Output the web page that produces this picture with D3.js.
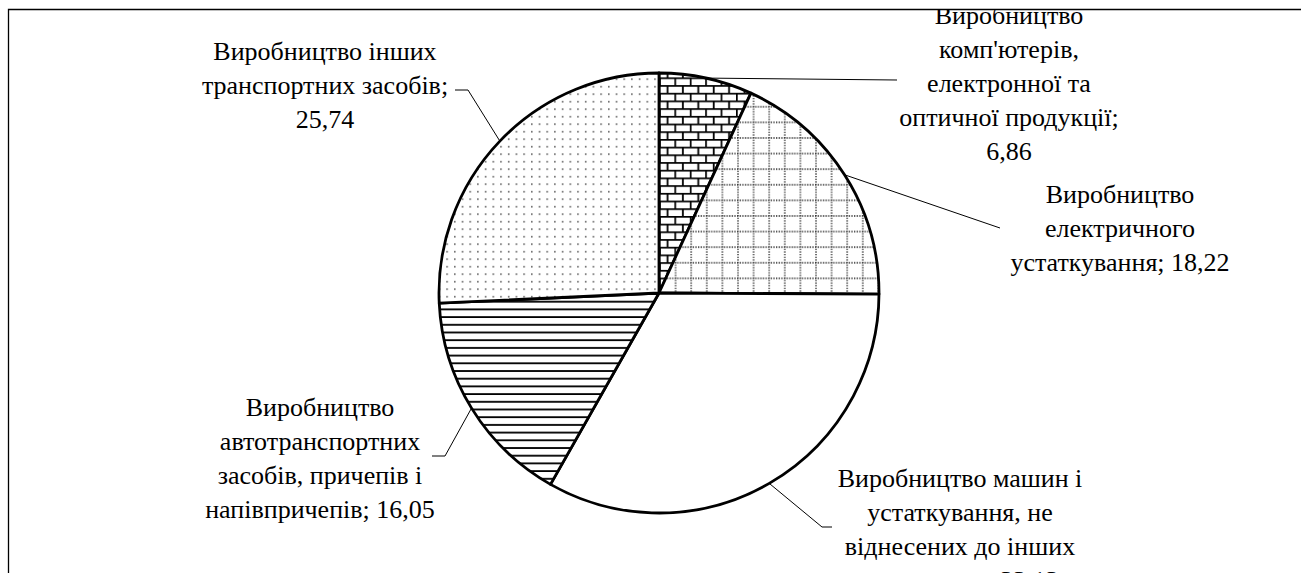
<!DOCTYPE html>
<html>
<head>
<meta charset="utf-8">
<script src="https://cdn.jsdelivr.net/npm/d3@7"></script>
</head>
<body style="margin:0">
<div id="graph"></div>
<script>
var categories = [
    "Виробництво комп'ютерів, електронної та оптичної продукції",
    "Виробництво електричного устаткування",
    "Виробництво машин і устаткування, не віднесених до інших угруповань",
    "Виробництво автотранспортних засобів, причепів і напівпричепів",
    "Виробництво інших транспортних засобів"
];
var values = [6.86, 18.22, 33.13, 16.05, 25.74];
var labelLines = [
    ["Виробництво", "комп'ютерів,", "електронної та", "оптичної продукції;"],
    ["Виробництво", "електричного", "устаткування;"],
    ["Виробництво машин і", "устаткування, не", "віднесених до інших", "угруповань;"],
    ["Виробництво", "автотранспортних", "засобів, причепів і", "напівпричепів;"],
    ["Виробництво інших", "транспортних засобів;"]
];
var valueOnOwnLine = [true, false, false, false, true];

function dessinCamembert() {
    var width = 1301, height = 573,
        cx = 659, cy = 293, r = 220,
        lineH = 34,
        // position des étiquettes et coude des lignes de rappel
        layout = [
            {x: 1009, y: 24, pts: [[897, 80]]},
            {x: 1120, y: 203, pts: [[1000, 228]]},
            {x: 960, y: 487, pts: [[822, 527], [832, 527]]},
            {x: 320, y: 416, pts: [[445, 456], [432, 456]]},
            {x: 325, y: 60, pts: [[468, 90], [455, 90]]}
        ],
        fills = ["url(#brique)", "url(#grille)", "white", "url(#lignes)", "url(#points)"],

        svg = d3.select("#graph")
            .append("svg")
                .attr("width", width)
                .attr("height", height),
        defs = svg.append("defs");

    // motifs de remplissage
    var brique = defs.append("pattern").attr("id", "brique")
        .attr("patternUnits", "userSpaceOnUse").attr("width", 15.4).attr("height", 15.4);
    brique.append("rect").attr("width", 15.4).attr("height", 15.4).attr("fill", "white");
    brique.append("path")
        .attr("d", "M0,0.8H15.4M0,8.5H15.4M0.8,0V7.7M8.5,7.7V15.4")
        .attr("stroke", "black").attr("stroke-width", 1.8).attr("fill", "none");

    var grille = defs.append("pattern").attr("id", "grille")
        .attr("patternUnits", "userSpaceOnUse").attr("width", 15.6).attr("height", 15.6);
    grille.append("rect").attr("width", 15.6).attr("height", 15.6).attr("fill", "white");
    grille.append("path")
        .attr("d", "M0,1H15.6M1,0V15.6")
        .attr("stroke", "#222").attr("stroke-width", 1.3)
        .attr("stroke-dasharray", "1.3 1.3").attr("fill", "none");

    var lignes = defs.append("pattern").attr("id", "lignes")
        .attr("patternUnits", "userSpaceOnUse").attr("width", 10).attr("height", 7.7);
    lignes.append("rect").attr("width", 10).attr("height", 7.7).attr("fill", "white");
    lignes.append("path")
        .attr("d", "M0,1H10")
        .attr("stroke", "black").attr("stroke-width", 1.8).attr("fill", "none");

    var points = defs.append("pattern").attr("id", "points")
        .attr("patternUnits", "userSpaceOnUse").attr("width", 7.7).attr("height", 7.5);
    points.append("rect").attr("width", 7.7).attr("height", 7.5).attr("fill", "white");
    points.append("rect").attr("x", 3).attr("y", 3).attr("width", 1.4).attr("height", 1.4).attr("fill", "#333");

    var pie = d3.pie().sort(null).value(function (d) { return d; }),
        arcs = pie(values),
        arc = d3.arc().innerRadius(0).outerRadius(r),
        arcBord = d3.arc().innerRadius(r).outerRadius(r),
        centre = svg.append("g").attr("transform", "translate(" + cx + "," + cy + ")");

    centre.selectAll(".part")
        .data(arcs)
        .enter()
        .append("path")
        .attr("d", arc)
        .attr("fill", function (d, i) { return fills[i]; })
        .attr("stroke", "black")
        .attr("stroke-width", 2.8)
        .attr("stroke-linejoin", "round");

    // lignes de rappel
    svg.selectAll(".rappel")
        .data(arcs)
        .enter()
        .append("path")
        .attr("fill", "none")
        .attr("stroke", "black")
        .attr("stroke-width", 1)
        .attr("d", function (d, i) {
            var c = arcBord.centroid(d),
                p = [[cx + c[0], cy + c[1]]].concat(layout[i].pts);
            return d3.line()(p);
        });

    var fmt = function (v) { return d3.format(".2f")(v).replace(".", ","); };

    var txt = [];
    arcs.forEach(function (d, i) {
        var lignesTxt = labelLines[i].slice();
        if (valueOnOwnLine[i]) lignesTxt.push(fmt(values[i]));
        else lignesTxt[lignesTxt.length - 1] += " " + fmt(values[i]);
        lignesTxt.forEach(function (t, k) {
            txt.push({t: t, x: layout[i].x, y: layout[i].y + k * lineH});
        });
    });
    svg.selectAll("text")
        .data(txt)
        .enter()
        .append("text")
        .attr("x", function (d) { return d.x; })
        .attr("y", function (d) { return d.y; })
        .attr("text-anchor", "middle")
        .style("font-family", "'Liberation Serif', 'Times New Roman', serif")
        .style("font-size", "26px")
        .text(function (d) { return d.t; });

    // le haut du graphique est coupé par le cadre
    svg.append("rect")
        .attr("x", 0).attr("y", 0)
        .attr("width", width).attr("height", 9)
        .attr("fill", "white");

    // cadre du graphique
    svg.append("path")
        .attr("d", "M8.5," + height + "V9.5H" + width)
        .attr("fill", "none").attr("stroke", "black").attr("stroke-width", 1.3);
}

dessinCamembert();
</script>
</body>
</html>
